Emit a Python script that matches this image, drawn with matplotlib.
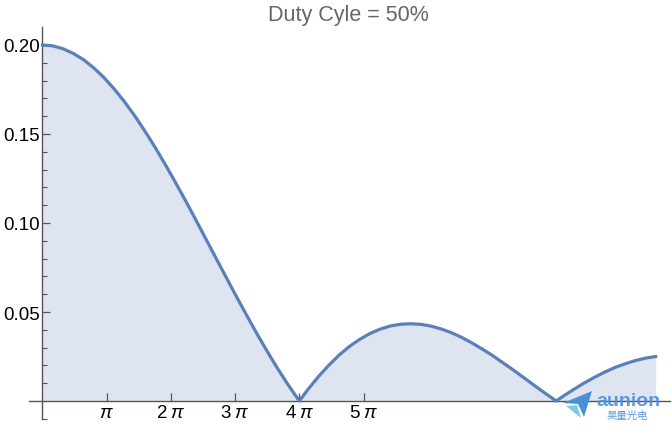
import numpy as np
import matplotlib.pyplot as plt
from matplotlib.patches import Polygon

# Curve values (x in radians-scale units, y amplitude)
x_vals = [0, 0.5, 1, 1.5, 2, 2.5, 3, 3.5, 4, 4.5, 5, 5.5, 6, 6.5, 7, 7.5, 8, 8.5, 9, 9.5,
          10, 10.5, 11, 11.5, 12, 12.566, 13, 13.5, 14, 14.5, 15, 15.5, 16, 16.5, 17, 17.5,
          18, 18.5, 19, 19.5, 20, 20.5, 21, 21.5, 22, 22.5, 23, 23.5, 24, 24.5, 25, 25.133,
          25.5, 26, 26.5, 27, 27.5, 28, 28.5, 29, 29.5, 30]
y_vals = [0.2, 0.1995, 0.1979, 0.1953, 0.1918, 0.1872, 0.1818, 0.1754, 0.1683, 0.1604,
          0.1518, 0.1427, 0.1330, 0.1229, 0.1125, 0.1018, 0.0909, 0.0800, 0.0692, 0.0584,
          0.0479, 0.0376, 0.0278, 0.0183, 0.0094, 0.0, 0.0067, 0.0137, 0.0200, 0.0257,
          0.0305, 0.0345, 0.0378, 0.0403, 0.0421, 0.0431, 0.0434, 0.0431, 0.0421, 0.0405,
          0.0384, 0.0358, 0.0327, 0.0293, 0.0257, 0.0217, 0.0177, 0.0135, 0.0093, 0.0051,
          0.0011, 0.0, 0.0029, 0.0066, 0.0101, 0.0133, 0.0162, 0.0188, 0.0209, 0.0227,
          0.0241, 0.0250]

x_tick_pos = [np.pi, 2 * np.pi, 3 * np.pi, 4 * np.pi, 5 * np.pi]
x_tick_labels = [r"$\pi$", r"2$\;\pi$", r"3$\;\pi$", r"4$\;\pi$", r"5$\;\pi$"]
y_major = [0.05, 0.10, 0.15, 0.20]
y_major_labels = ["0.05", "0.10", "0.15", "0.20"]
y_minor = [-0.01, 0.01, 0.02, 0.03, 0.04, 0.06, 0.07, 0.08, 0.09, 0.11, 0.12, 0.13,
           0.14, 0.16, 0.17, 0.18, 0.19]
title = "Duty Cyle = 50%"

plt.rcParams['font.family'] = ['Liberation Sans', 'Noto Sans CJK SC', 'DejaVu Sans']
plt.rcParams['mathtext.fontset'] = 'custom'
plt.rcParams['mathtext.rm'] = 'Liberation Sans'
plt.rcParams['mathtext.it'] = 'Liberation Sans:italic'
plt.rcParams['mathtext.default'] = 'it'

W, H = 672, 431
fig = plt.figure(figsize=(W / 100, H / 100), dpi=100)
ax = fig.add_axes([29 / W, (H - 420) / H, (670 - 29) / W, (420 - 28) / H])

line_color = '#5B7FB8'
fill_color = '#DFE5F0'
ax.fill_between(x_vals, y_vals, 0, color=fill_color, lw=0, zorder=1)
ax.plot(x_vals, y_vals, color=line_color, lw=2.3, zorder=3, solid_joinstyle='round')

ax.set_xlim(-0.66, 30.70)
ax.set_ylim(-0.0101, 0.2101)

for s in ['top', 'right']:
    ax.spines[s].set_visible(False)
ax.spines['left'].set_position(('data', 0))
ax.spines['bottom'].set_position(('data', 0))
axis_color = '#555555'
for s in ['left', 'bottom']:
    ax.spines[s].set_color(axis_color)
    ax.spines[s].set_linewidth(1.0)
    ax.spines[s].set_zorder(2)

ax.set_xticks(x_tick_pos)
ax.set_xticklabels(x_tick_labels)
ax.set_yticks(y_major)
ax.set_yticklabels(y_major_labels)
ax.set_yticks(y_minor, minor=True)
ax.tick_params(axis='both', which='major', direction='in', length=6, width=0.9,
               color=axis_color, labelsize=13.5, labelcolor='black')
ax.tick_params(axis='y', which='minor', direction='in', length=3.5, width=0.8,
               color=axis_color)
ax.tick_params(axis='x', pad=2.5)
ax.tick_params(axis='y', pad=2)
ax.patch.set_alpha(0)

fig.text(348 / W, 1 - 16 / H, title, ha='center', va='center', fontsize=15.5,
         color='#666666')

# watermark logo
logo_blue = '#4A90D9'
logo_light = '#7EC8EE'
fig.patches.append(Polygon([[563 / W, 1 - 404 / H], [592 / W, 1 - 392 / H],
                            [584 / W, 1 - 418 / H], [578 / W, 1 - 405 / H]],
                           closed=True, transform=fig.transFigure,
                           facecolor=logo_blue, edgecolor='none', zorder=5))
fig.patches.append(Polygon([[566 / W, 1 - 407 / H], [577 / W, 1 - 406 / H],
                            [581 / W, 1 - 419 / H]],
                           closed=True, transform=fig.transFigure,
                           facecolor=logo_light, edgecolor='none', zorder=5))
fig.text(628 / W, 1 - 402 / H, "aunion", ha='center', va='center', fontsize=14,
         color=logo_blue, fontweight='bold', alpha=0.9)
fig.text(627 / W, 1 - 416 / H, "昊量光电", ha='center', va='center', fontsize=7.5,
         color=logo_blue, alpha=0.9)

fig.savefig('out.png', dpi=100)
